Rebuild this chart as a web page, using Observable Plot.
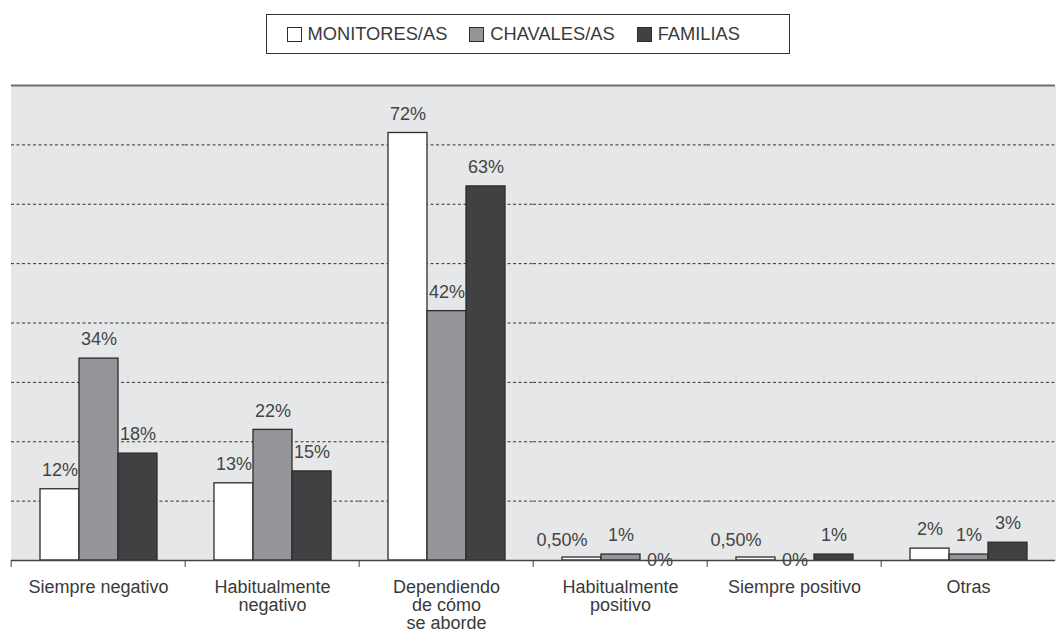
<!DOCTYPE html>
<html><head><meta charset="utf-8">
<script src="https://cdn.jsdelivr.net/npm/d3@7"></script>
<script src="https://cdn.jsdelivr.net/npm/@observablehq/plot@0.6"></script>
<style>
html,body{margin:0;padding:0;background:#fff;}
body{font-family:"Liberation Sans",Arial,Helvetica,sans-serif;color:#3a3a3a;width:1057px;height:634px;overflow:hidden;}
#legend{margin:14px 0 0 266px;width:524px;height:40px;box-sizing:border-box;border:1.5px solid #333;display:flex;align-items:center;justify-content:flex-start;padding-left:19.5px;font-size:18.3px;}
#legend .item{display:flex;align-items:center;margin-right:22px;}
#legend .sw{width:15px;height:15px;box-sizing:border-box;border:1.3px solid #2b2b2b;margin-right:6px;}
#chart{margin-top:6px;}
</style>
</head><body>
<div id="legend"></div>
<div id="chart"></div>
<script>
const categories = ["Siempre negativo","Habitualmente\nnegativo","Dependiendo\nde cómo\nse aborde","Habitualmente\npositivo","Siempre positivo","Otras"];
const series = ["MONITORES/AS","CHAVALES/AS","FAMILIAS"];
const monitores = [12,13,72,0.5,0.5,2];
const chavales  = [34,22,42,1,0,1];
const familias  = [18,15,63,0,1,3];
const gridTicks = [10,20,30,40,50,60,70];
const yMax = 80;
const colors = ["#ffffff","#939598","#414042"];

const seriesValues = [monitores, chavales, familias];
const data = categories.flatMap((c,i)=>series.map((s,j)=>({cat:c, serie:s, value:seriesValues[j][i]})));
const fmt = v => Number.isInteger(v) ? v + "%" : v.toFixed(2).replace(".", ",") + "%";

// legend
const leg = document.getElementById("legend");
series.forEach((s,j)=>{
  const it = document.createElement("div"); it.className="item";
  const sw = document.createElement("div"); sw.className="sw"; sw.style.background=colors[j];
  const tx = document.createElement("span"); tx.textContent=s;
  it.appendChild(sw); it.appendChild(tx); leg.appendChild(it);
});

const W=1057, H=574, mL=9, mR=0, mT=25, mB=74;
const bw = (W-mL-mR)/categories.length;
const font = '"Liberation Sans",Arial,Helvetica,sans-serif';
const labelOpts = {fx:"cat", x:"serie", y:"value", text:d=>fmt(d.value), fontSize:18, fill:"#444"};

const chart = Plot.plot({
  width:W, height:H, marginLeft:mL, marginRight:mR, marginTop:mT, marginBottom:mB,
  style:{fontFamily:font, fontSize:"18px", color:"#3a3a3a", background:"transparent", overflow:"visible"},
  fx:{domain:categories, padding:0, label:null},
  x:{domain:series, paddingInner:0, paddingOuter:0.72, axis:null},
  y:{domain:[0,yMax], axis:null},
  color:{domain:series, range:colors},
  marks:[
    Plot.frame({fill:"#e6e7e8", stroke:null, insetLeft:-0.6, insetRight:-0.6, shapeRendering:"crispEdges"}),
    Plot.ruleY(gridTicks, {stroke:"#333", strokeDasharray:"3,2.5", strokeWidth:1}),
    Plot.ruleY([yMax], {stroke:"#6d6e71", strokeWidth:2}),
    Plot.barY(data, {fx:"cat", x:"serie", y:"value", fill:"serie", stroke:"#2b2b2b", strokeWidth:1.3}),
    Plot.ruleY([0], {stroke:"#444", strokeWidth:1.5}),
    Plot.text(data, {...labelOpts, filter:d=>d.value >= 1, dy:-19}),
    Plot.text(data, {...labelOpts, filter:d=>d.value > 0 && d.value < 1, dy:-17, dx:-20}),
    Plot.text(data, {...labelOpts, filter:d=>d.value === 0, dy:0}),
    Plot.axisFx({anchor:"bottom", tickSize:7, tickFormat:()=>"", dx:-bw/2, stroke:"#444", label:null}),
    Plot.axisFx({anchor:"bottom", tickSize:0, tickPadding:20, fontSize:18, lineHeight:1.0, fill:"#3a3a3a", label:null})
  ]
});
document.getElementById("chart").appendChild(chart);
</script>
</body></html>
